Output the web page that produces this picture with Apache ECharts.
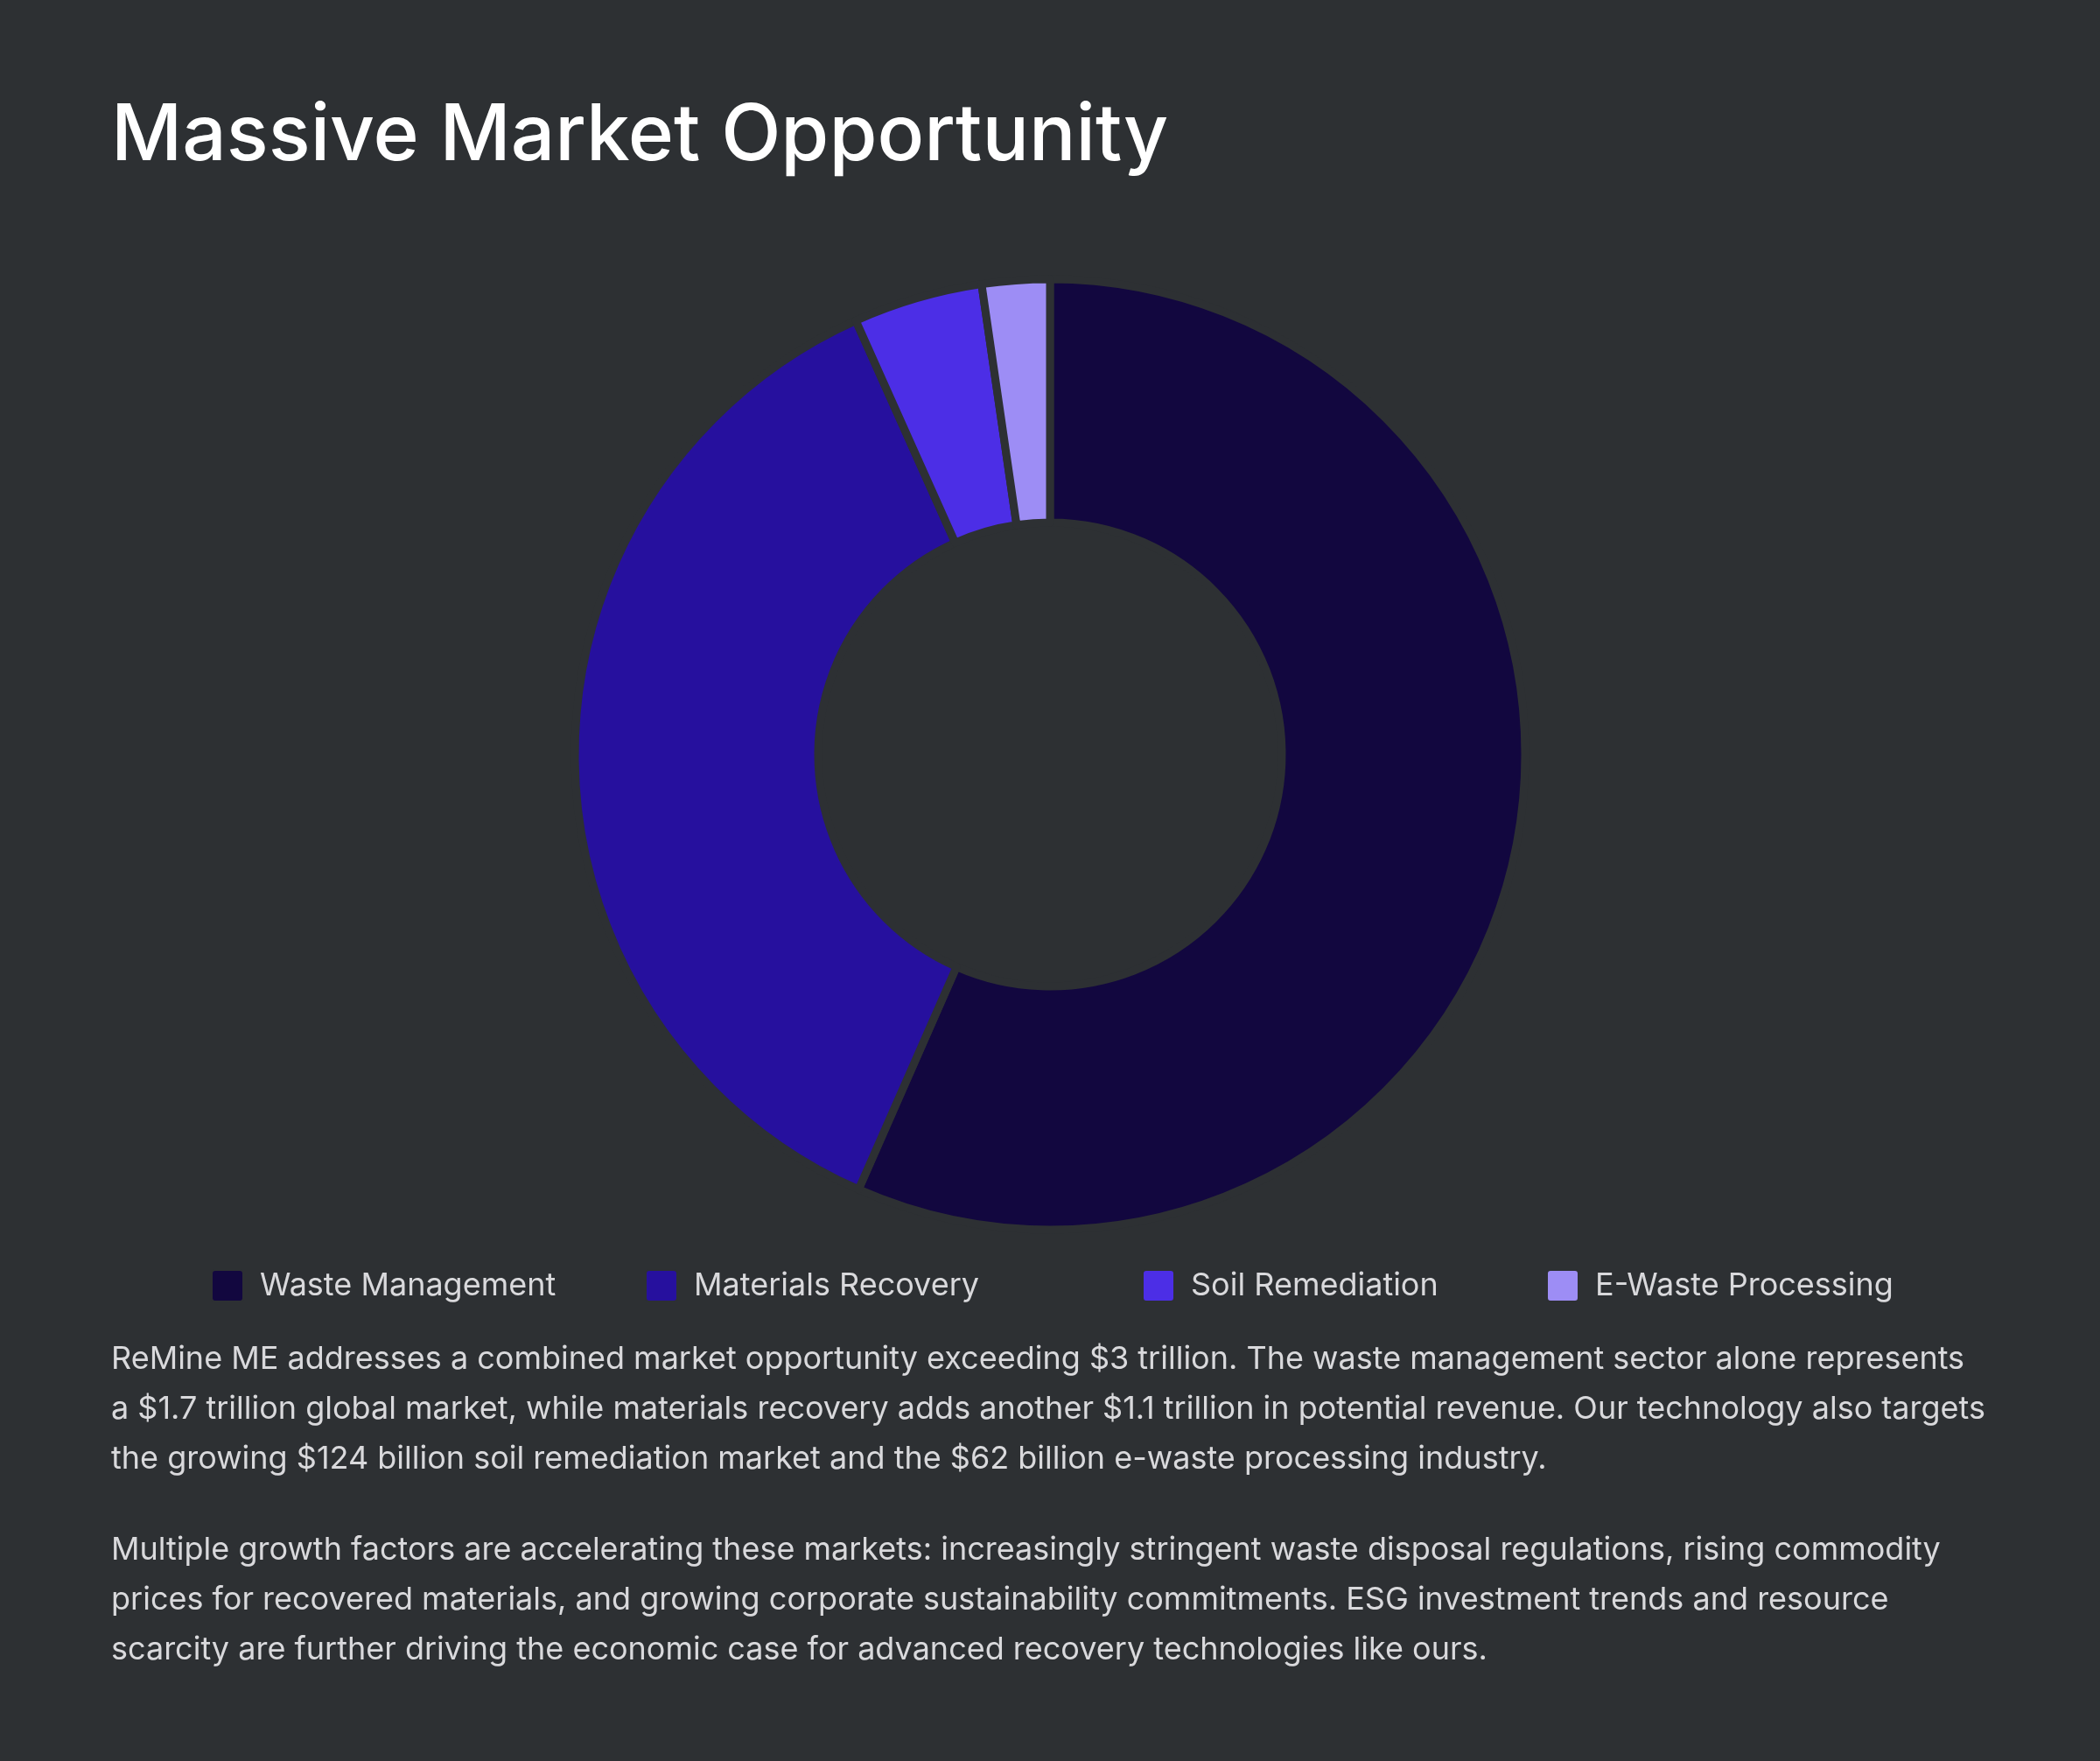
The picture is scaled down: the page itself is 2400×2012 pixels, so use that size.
<!DOCTYPE html>
<html>
<head>
<meta charset="utf-8">
<script src="https://cdn.jsdelivr.net/npm/echarts@6/dist/echarts.min.js"></script>
<style>
  html, body { margin: 0; padding: 0; background: #2d3033; }
  #chart { width: 2400px; height: 2012px; }
</style>
</head>
<body>
<div id="chart"></div>
<script>
// share of the combined market, in percent
const segments = ['Waste Management', 'Materials Recovery', 'Soil Remediation', 'E-Waste Processing'];
const marketShare = [56.6, 36.7, 4.4, 2.3];
const segmentColors = ['#12073f', '#26109e', '#4c2ee6', '#9d8df5'];
const legendLeft = [241, 737, 1305, 1767];

const paragraphOne = [
  'ReMine ME addresses a combined market opportunity exceeding $3 trillion. The waste management sector alone represents',
  'a $1.7 trillion global market, while materials recovery adds another $1.1 trillion in potential revenue. Our technology also targets',
  'the growing $124 billion soil remediation market and the $62 billion e-waste processing industry.'
];
const paragraphTwo = [
  'Multiple growth factors are accelerating these markets: increasingly stringent waste disposal regulations, rising commodity',
  'prices for recovered materials, and growing corporate sustainability commitments. ESG investment trends and resource',
  'scarcity are further driving the economic case for advanced recovery technologies like ours.'
];

const bg = '#2d3033';
const chart = echarts.init(document.getElementById('chart'), null, { renderer: 'canvas' });

const bodyStyle = {
  fill: '#d9d9dc',
  font: '36px Inter',
  lineHeight: 57,
  verticalAlign: 'top'
};

chart.setOption({
  backgroundColor: bg,
  animation: false,
  color: segmentColors,
  legend: segments.map((name, i) => ({
    data: [name],
    left: legendLeft[i],
    top: 1450,
    padding: 0,
    itemWidth: 36,
    itemHeight: 36,
    icon: 'path://M4,0 H32 A4,4 0 0 1 36,4 V32 A4,4 0 0 1 32,36 H4 A4,4 0 0 1 0,32 V4 A4,4 0 0 1 4,0 Z',
    selectedMode: false,
    textStyle: {
      color: '#d9d9dc',
      fontFamily: 'Inter',
      fontSize: 36,
      padding: [0, 0, 0, 14]
    }
  })),
  series: [{
    type: 'pie',
    center: [1200, 862],
    radius: [265, 543],
    startAngle: 90,
    clockwise: true,
    label: { show: false },
    labelLine: { show: false },
    emphasis: { disabled: true },
    itemStyle: { borderColor: bg, borderWidth: 9 },
    data: segments.map((name, i) => ({ name: name, value: marketShare[i] }))
  }],
  graphic: [
    {
      type: 'text',
      left: 127,
      top: 112,
      style: {
        text: 'Massive Market Opportunity',
        fill: '#ffffff',
        font: '500 89px Inter'
      }
    },
    {
      type: 'text',
      left: 127,
      top: 1525,
      style: Object.assign({ text: paragraphOne.join('\n') }, bodyStyle)
    },
    {
      type: 'text',
      left: 127,
      top: 1743,
      style: Object.assign({ text: paragraphTwo.join('\n') }, bodyStyle)
    }
  ]
});
</script>
</body>
</html>
